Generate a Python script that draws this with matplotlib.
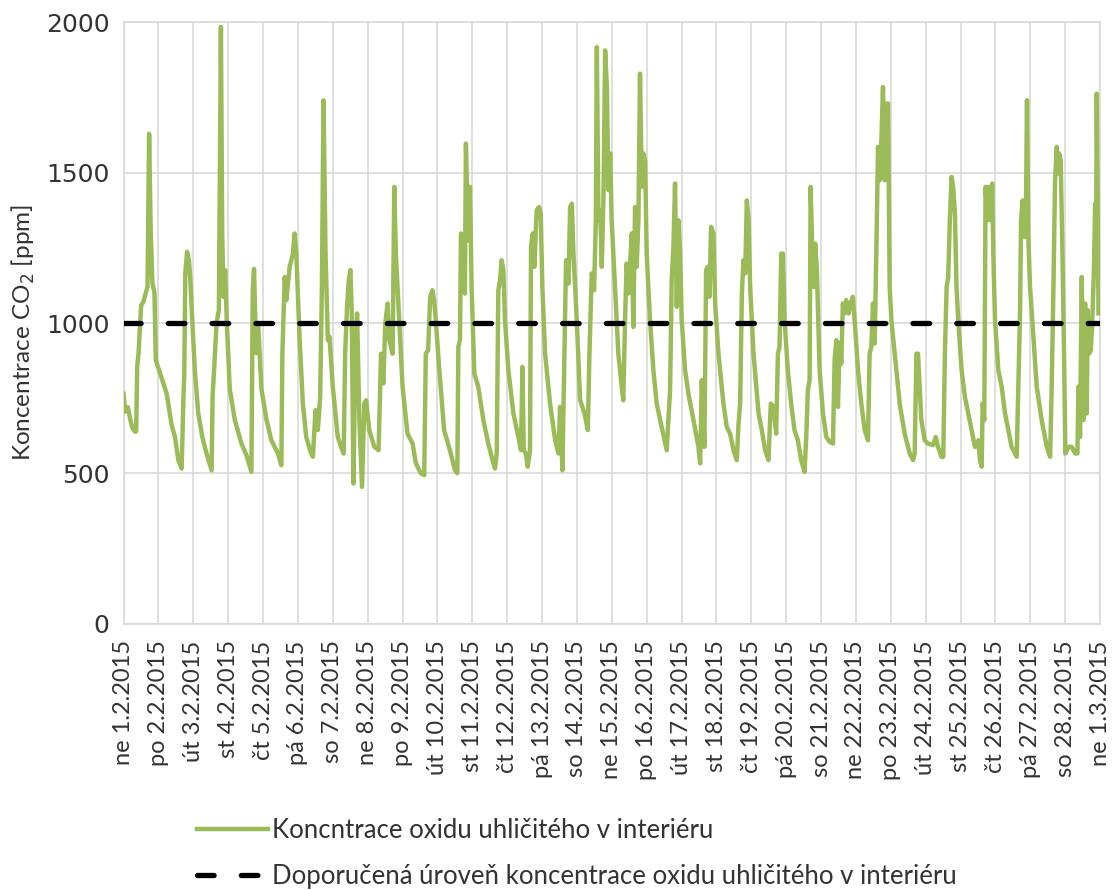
import matplotlib
matplotlib.use('Agg')
import matplotlib.pyplot as plt

plt.rcParams['font.family'] = ['Lato', 'DejaVu Sans']

# hours since 1.2.2015 00:00 and CO2 concentration [ppm]
hours = [
    0, 1.1, 3.0, 4.6, 6.2, 8.0, 8.7, 9.4, 10.3, 11.4, 12.1, 13.7, 15.3, 16.5, 17.6, 18.7, 19.9, 21.3, 22.2,
    24.5, 26.7, 29.7, 33.1, 35.4, 37.7, 40.0, 41.1, 41.8, 42.5, 43.7, 45.0, 45.9, 47.3,
    49.1, 51.4, 54.2, 57.1, 60.6, 61.3, 62.4, 64.0, 65.6, 67.0, 67.9, 68.8, 69.9, 71.1,
    73.1, 76.6, 81.1, 84.6, 88.0, 88.9, 89.8, 91.2, 92.6, 94.9,
    98.3, 101.7, 106.3, 108.6, 109.3, 110.9, 112.0, 114.3, 116.6, 117.7, 118.9,
    121.1, 123.4, 125.7, 129.1, 130.3, 132.1, 133.7, 135.3, 136.5, 137.6, 139.0, 140.6, 141.7,
    144.0, 147.4, 149.7, 151.5, 152.5, 153.8, 155.0, 156.1, 157.0, 158.2, 159.5, 160.7, 162.3, 164.1, 165.7, 166.9,
    169.1, 172.6, 175.5, 177.2, 178.8, 180.1, 181.7, 182.9, 185.2, 186.3, 187.4, 189.7,
    192.0, 195.4, 198.9, 201.2, 204.6, 206.9, 208.0, 209.6, 211.0, 212.6, 213.7, 214.9,
    217.2, 220.6, 224.6, 228.1, 229.7, 230.4, 231.5, 232.2, 233.8, 234.9, 235.6, 237.2, 238.4, 239.5,
    241.4, 244.1, 247.6, 251.0, 254.5, 255.6, 256.8, 257.9, 259.1, 260.2, 261.4, 262.5,
    264.8, 268.3, 271.7, 273.5, 274.5, 275.4, 276.8, 278.1, 279.7, 280.4, 281.6, 282.7, 284.3, 285.9, 287.1,
    288.2, 290.1, 293.5, 297.0, 299.3, 300.4, 302.0, 303.4, 304.5, 306.2, 307.3, 308.5, 309.6, 311.9,
    314.2, 317.2, 319.5, 320.6, 322.2, 323.8, 325.0, 325.7, 326.8, 328.0, 329.1, 330.3, 331.4, 332.6, 333.7, 334.9,
    335.9, 338.2, 340.5, 342.8, 343.9, 345.1, 346.2, 347.4, 348.5, 349.7, 350.8, 352.0, 353.1, 354.3, 355.4, 356.6, 357.7, 358.9,
    360.0, 362.3, 364.6, 366.9, 370.3, 373.8, 374.9, 376.1, 377.2, 378.4, 379.5, 380.7, 381.8, 383.0,
    384.1, 386.4, 388.7, 392.2, 395.6, 396.8, 397.9, 399.7, 400.9, 402.0, 403.2, 404.3, 405.9, 407.1,
    409.4, 412.8, 415.1, 417.4, 419.7, 422.0, 423.2, 424.3, 425.5, 426.6, 427.8, 428.9, 430.1, 431.2,
    433.5, 437.0, 439.2, 441.5, 443.8, 445.4, 447.3, 449.1, 450.3, 451.4, 452.6, 453.7, 454.9,
    457.1, 459.4, 461.7, 464.0, 466.3, 468.6, 469.8, 470.9, 472.1, 472.8, 473.9, 475.1, 476.0, 477.1, 479.0,
    481.3, 483.6, 485.9, 488.2, 489.3, 490.5, 491.6, 492.8, 493.9, 495.0, 496.2, 497.3, 499.0, 500.3, 501.9, 503.1,
    505.4, 507.7, 510.0, 512.3, 513.4, 514.6, 515.7, 516.9, 518.0, 519.2, 520.3, 521.5, 522.6, 523.8, 524.9, 526.1, 527.2,
    528.4, 530.7, 534.1, 537.5, 541.0, 543.3, 544.4, 545.6, 546.7, 549.0, 551.3,
    553.6, 557.1, 558.9, 560.5, 562.8, 564.1, 565.2, 566.4, 567.5, 568.6, 569.8, 570.9, 572.1, 573.2, 574.4,
    576.7, 579.0, 581.3, 583.6, 585.9, 588.2, 589.3, 590.5, 591.2, 592.3, 593.2, 594.4, 595.5, 596.7, 597.8, 598.5, 599.7,
    602.0, 604.3, 606.6, 608.8, 611.1, 614.6, 615.7, 616.9, 617.6, 618.7, 619.6, 620.8, 621.7, 622.6, 623.8,
    626.1, 628.4, 631.8, 635.3, 637.6, 638.7, 639.9, 641.0, 642.2, 642.8, 643.8, 644.9, 646.1, 647.2, 648.1,
    650.2, 652.5, 654.8, 656.4, 657.1, 658.2, 659.4, 660.5, 661.7, 662.8, 663.5, 664.4, 665.6, 666.5, 667.7, 668.6, 669.3, 669.7, 670.9,
]
co2 = [
    765, 705, 720, 680, 650, 638, 640, 854, 898, 1000, 1059, 1070, 1100, 1120, 1630, 1300, 1131, 1100, 876,
    843, 810, 765, 660, 621, 544, 516, 732, 832, 1165, 1237, 1209, 1150, 1009,
    840, 700, 621, 566, 510, 760, 850, 1000, 1043, 1985, 1300, 1087, 1176, 1000,
    780, 677, 600, 560, 505, 1109, 1180, 900, 1000, 780,
    680, 610, 566, 527, 898, 1153, 1076, 1187, 1231, 1298, 1231,
    954, 732, 621, 566, 555, 710, 644, 754, 1120, 1741, 1231, 943, 954,
    788, 621, 588, 566, 898, 1054, 1142, 1176, 1043, 466, 898, 1032, 677, 455, 732, 743,
    644, 588, 577, 898, 799, 998, 1065, 943, 898, 1453, 1231, 1009,
    788, 632, 599, 533, 500, 494, 898, 910, 1087, 1109, 1076, 1009,
    850, 644, 577, 510, 500, 921, 943, 1298, 1287, 1098, 1597, 1275, 1453, 1120,
    832, 788, 677, 599, 533, 516, 566, 1109, 1142, 1209, 1176, 1009,
    843, 699, 621, 577, 854, 577, 566, 522, 577, 1253, 1298, 1187, 1375, 1386, 1364,
    1120, 898, 732, 610, 566, 721, 510, 898, 1209, 1131, 1386, 1397, 1231, 1009,
    743, 699, 644, 898, 1165, 1109, 1342, 1918, 1342, 1375, 1187, 1431, 1907, 1785, 1442, 1564,
    1342, 1120, 898, 788, 743, 1009, 1198, 1098, 1187, 1298, 987, 1386, 1187, 1342, 1830, 1453, 1564, 1541,
    1231, 1009, 843, 732, 654, 577, 677, 777, 1142, 1253, 1464, 1054, 1342, 1231,
    1009, 843, 765, 677, 588, 533, 810, 588, 1176, 1187, 1087, 1320, 1298, 1065,
    898, 732, 654, 632, 577, 544, 665, 732, 1098, 1209, 1165, 1408, 1342, 1120,
    898, 699, 644, 577, 544, 732, 721, 632, 898, 921, 1231, 1231, 1009,
    843, 732, 644, 610, 544, 505, 621, 777, 810, 1453, 1253, 1120, 1264, 1176, 843,
    699, 621, 605, 599, 876, 943, 721, 932, 865, 1065, 1032, 1076, 1032, 1065, 1087, 1009,
    843, 732, 644, 610, 898, 921, 1065, 932, 1231, 1586, 1475, 1608, 1785, 1475, 1730, 1730, 1120,
    1009, 898, 732, 632, 566, 544, 566, 898, 898, 677, 610,
    599, 594, 621, 588, 555, 555, 898, 1120, 1153, 1342, 1486, 1453, 1364, 1120, 1009,
    843, 754, 699, 644, 588, 610, 544, 522, 732, 677, 1453, 1342, 1453, 1342, 1464, 1231, 1009,
    843, 788, 699, 644, 588, 555, 788, 1032, 1342, 1408, 1287, 1287, 1741, 1287, 1120,
    954, 788, 677, 588, 555, 788, 1120, 1475, 1586, 1497, 1564, 1541, 1231, 898, 566,
    588, 588, 566, 566, 788, 621, 1153, 677, 1065, 699, 1043, 898, 910, 987, 1165, 1397, 1298, 1763, 1032,
]
limit = 1000

day_labels = ['ne 1.2.2015', 'po 2.2.2015', 'út 3.2.2015', 'st 4.2.2015', 'čt 5.2.2015',
              'pá 6.2.2015', 'so 7.2.2015', 'ne 8.2.2015', 'po 9.2.2015', 'út 10.2.2015',
              'st 11.2.2015', 'čt 12.2.2015', 'pá 13.2.2015', 'so 14.2.2015', 'ne 15.2.2015',
              'po 16.2.2015', 'út 17.2.2015', 'st 18.2.2015', 'čt 19.2.2015', 'pá 20.2.2015',
              'so 21.2.2015', 'ne 22.2.2015', 'po 23.2.2015', 'út 24.2.2015', 'st 25.2.2015',
              'čt 26.2.2015', 'pá 27.2.2015', 'so 28.2.2015', 'ne 1.3.2015']

fig = plt.figure(figsize=(11.19, 8.9), dpi=100)
ax = fig.add_axes([0.1104, 0.2993, 0.8727, 0.6755])

ax.plot(hours, co2, color='#9BBB59', linewidth=3.2, solid_joinstyle='round',
        label='Koncntrace oxidu uhličitého v interiéru', zorder=3)
ax.axhline(limit, color='black', linewidth=3.8, linestyle=(0, (3.15, 5.15)),
           dash_capstyle='round', zorder=4,
           label='Doporučená úroveň koncentrace oxidu uhličitého v interiéru')

ax.set_xlim(0, 24 * 28)
ax.set_ylim(0, 2000)
ax.set_xticks([24 * i for i in range(len(day_labels))])
ax.set_xticklabels(day_labels, rotation=90, va='top', ha='center')
ax.set_yticks([0, 500, 1000, 1500, 2000])
ax.tick_params(axis='x', length=0, pad=12, labelsize=17, colors='#333333')
ax.tick_params(axis='y', length=0, pad=10, labelsize=18, colors='#333333')
for lbl in ax.get_yticklabels():
    lbl.set_family('DejaVu Sans')
ax.grid(True, color='#D9D9D9', linewidth=1.2)
ax.set_axisbelow(True)
for s in ax.spines.values():
    s.set_color('#D9D9D9')
    s.set_linewidth(1.2)

fig.text(23 / 1119, 1 - 333 / 890, 'Koncentrace CO$_2$ [ppm]', rotation=90,
         ha='center', va='center', fontsize=17.5, color='#333333')

fig.legend(loc='upper left', bbox_to_anchor=(197 / 1119, 72 / 890), frameon=False,
           fontsize=18.5, handlelength=2.76, handletextpad=0.16, labelspacing=0.82,
           borderpad=0, borderaxespad=0, labelcolor='#333333')

fig.savefig('out.png', dpi=100)
